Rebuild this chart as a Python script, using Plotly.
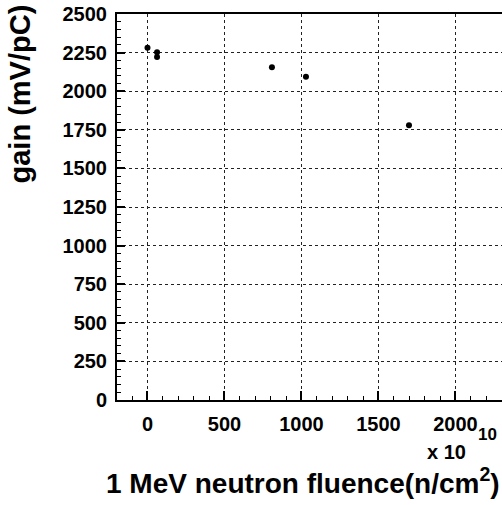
import plotly.graph_objects as go

fluence = [0, 62, 62, 808, 1029, 1698]
gain = [2282, 2252, 2221, 2155, 2094, 1779]

x_ticks = [0, 500, 1000, 1500, 2000]
y_ticks = [0, 250, 500, 750, 1000, 1250, 1500, 1750, 2000, 2250, 2500]

FONT = "Liberation Sans"

fig = go.Figure()
fig.add_trace(go.Scatter(
    x=fluence, y=gain, mode="markers",
    marker=dict(color="black", size=6),
    showlegend=False,
))

fig.update_layout(
    width=502, height=505,
    margin=dict(l=117, r=0, t=14, b=105),
    paper_bgcolor="white", plot_bgcolor="white",
    xaxis=dict(
        range=[-198, 2302], tickvals=x_ticks, ticktext=[str(v) for v in x_ticks],
        showline=True, linecolor="black", linewidth=2, mirror=True,
        ticks="inside", ticklen=9, tickwidth=2, tickcolor="black",
        minor=dict(dtick=100, tick0=0, ticks="inside", ticklen=4, tickwidth=1, tickcolor="black", showgrid=False),
        showgrid=True, gridcolor="#222222", griddash="dot", gridwidth=1,
        zeroline=False,
        tickfont=dict(family=FONT, size=20, color="black", weight="bold"),
        ticklabelstandoff=5,
    ),
    yaxis=dict(
        range=[0, 2500], tickvals=y_ticks, ticktext=[str(v) for v in y_ticks],
        showline=True, linecolor="black", linewidth=2, mirror=False,
        ticks="inside", ticklen=8, tickwidth=2, tickcolor="black",
        minor=dict(dtick=50, tick0=0, ticks="inside", ticklen=4, tickwidth=1, tickcolor="black", showgrid=False),
        showgrid=True, gridcolor="#222222", griddash="dot", gridwidth=1,
        zeroline=False,
        tickfont=dict(family=FONT, size=20, color="black", weight="bold"),
        ticklabelstandoff=4,
    ),
    annotations=[
        dict(text="1 MeV neutron fluence(n/cm<sup>2</sup>)", xref="paper", yref="paper",
             x=(502 - 117) / 385, y=(505 - 105 - 484) / 400, xanchor="right", yanchor="middle",
             showarrow=False, font=dict(family=FONT, size=28, color="black", weight="bold")),
        dict(text="gain (mV/pC)", xref="paper", yref="paper", textangle=-90,
             x=(20 - 117) / 385, y=(400 - 3) / 386, xanchor="center", yanchor="top",
             showarrow=False, font=dict(family=FONT, size=29, color="black", weight="bold")),
        dict(text="x 10", xref="paper", yref="paper",
             x=(446 - 117) / 385, y=(400 - 452) / 386, xanchor="center", yanchor="middle",
             showarrow=False, font=dict(family=FONT, size=20, color="black", weight="bold")),
        dict(text="10", xref="paper", yref="paper",
             x=(487 - 117) / 385, y=(400 - 434) / 386, xanchor="center", yanchor="middle",
             showarrow=False, font=dict(family=FONT, size=17, color="black", weight="bold")),
    ],
)

fig.write_html("out.html")
